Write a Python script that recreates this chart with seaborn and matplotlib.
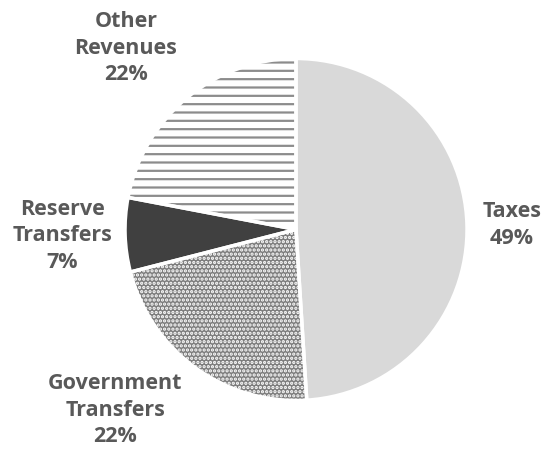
import matplotlib
matplotlib.use('Agg')
import matplotlib.pyplot as plt
import seaborn as sns

# Revenue shares (%)
categories = ['Taxes', 'Government\nTransfers', 'Reserve\nTransfers', 'Other\nRevenues']
shares = [49, 22, 7, 22]
face_colors = ['#d9d9d9', '#7d7d7d', '#404040', 'white']
hatches = [None, '....', None, '--']
hatch_colors = ['#d9d9d9', 'white', '#404040', '#8c8c8c']

sns.set_theme(style='white')
plt.rcParams['font.family'] = ['Open Sans', 'DejaVu Sans']
plt.rcParams['hatch.linewidth'] = 1.6

fig = plt.figure(figsize=(5.51, 4.51), dpi=100)
ax = fig.add_axes([0.2269, 0.112, 0.6207, 0.7583])

wedges, _ = ax.pie(shares, startangle=90, counterclock=False, colors=face_colors,
                   wedgeprops=dict(linewidth=0))
for w, h, hc in zip(wedges, hatches, hatch_colors):
    w.set_edgecolor(hc)
    w.set_linewidth(0)
    if h:
        w.set_hatch(h)

# white separators between slices
ax.pie(shares, startangle=90, counterclock=False,
       wedgeprops=dict(fill=False, edgecolor='white', linewidth=2.5))

ax.set_xlim(-1, 1)
ax.set_ylim(-1, 1)

label_pos = [(1.263, 0.026), (-1.058, -1.056), (-1.368, -0.038), (-0.994, 1.061)]
for name, val, (x, y) in zip(categories, shares, label_pos):
    ax.text(x, y, f'{name}\n{val}%', ha='center', va='center', fontsize=15.5,
            fontweight='bold', color='#595959', linespacing=1.32, clip_on=False)

fig.savefig('out.png', dpi=100)
